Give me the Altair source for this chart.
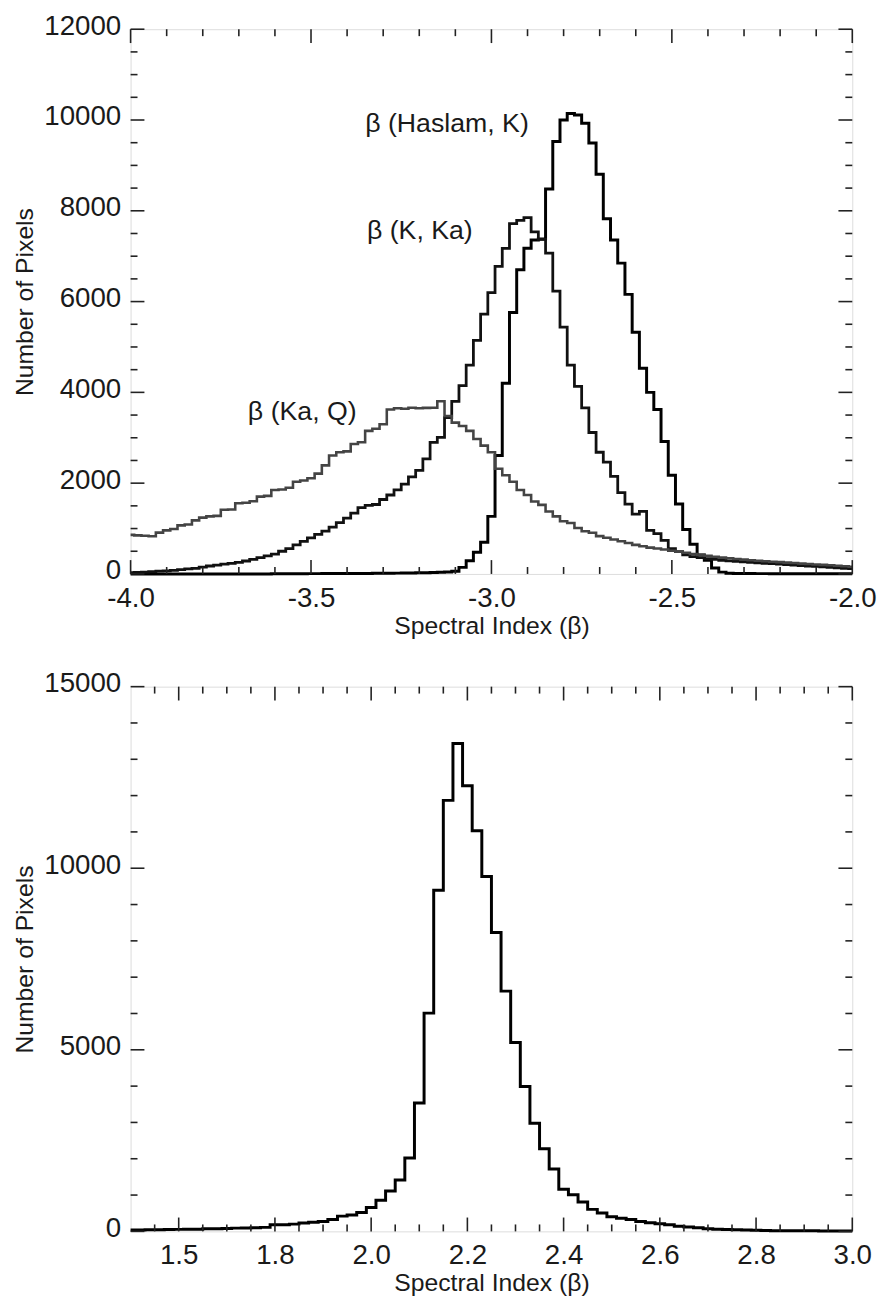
import altair as alt
import pandas as pd

# ---------------- data ----------------
# top panel: histogram bin centres from -4.00 to -2.00 in steps of 0.02
top_start, top_step, top_n = -4.0, 0.02, 101
series_names = ["β (Haslam, K)", "β (K, Ka)", "β (Ka, Q)"]

haslam_k = [0, 0, 0, 0, 0, 0, 0, 0, 0, 0,
            0, 0, 0, 0, 0, 0, 0, 0, 0, 0,
            5, 5, 5, 6, 6, 7, 7, 8, 8, 9,
            10, 10, 11, 12, 13, 14, 15, 18, 20, 22,
            25, 28, 30, 35, 45, 60, 145, 290, 480, 700,
            1268, 2609, 4203, 5760, 6703, 7174, 7355, 7380, 8478, 9528,
            10000, 10144, 10108, 9927, 9492, 8804, 7826, 7355, 6847, 6159,
            5326, 4529, 4000, 3623, 2920, 2174, 1540, 978, 652, 420,
            300, 130, 40, 15, 10, 8, 8, 7, 7, 6,
            6, 5, 5, 5, 4, 4, 4, 3, 3, 3, 3]

k_ka = [30, 35, 40, 50, 60, 70, 80, 95, 110, 125,
        150, 175, 195, 215, 235, 254, 285, 320, 362, 400,
        435, 500, 560, 640, 720, 797, 870, 942, 1030, 1130,
        1230, 1340, 1460, 1510, 1530, 1640, 1739, 1850, 1980, 2140,
        2282, 2536, 2898, 3007, 3442, 3804, 4150, 4601, 5145, 5724,
        6195, 6775, 7174, 7717, 7790, 7848, 7536, 7370, 7065, 6232,
        5435, 4601, 4130, 3659, 3116, 2681, 2464, 2150, 1790, 1540,
        1320, 1377, 960, 890, 740, 560, 490, 420, 380, 360,
        340, 320, 300, 290, 275, 265, 255, 245, 235, 225,
        215, 205, 195, 185, 175, 165, 155, 145, 135, 125, 115]

ka_q = [860, 850, 840, 830, 910, 960, 990, 1070, 1090, 1180,
        1240, 1268, 1280, 1413, 1420, 1558, 1570, 1600, 1703, 1720,
        1848, 1860, 1900, 2029, 2060, 2110, 2210, 2391, 2609, 2681,
        2700, 2862, 2900, 3152, 3200, 3297, 3623, 3650, 3640, 3660,
        3650, 3659, 3660, 3804, 3478, 3333, 3261, 3152, 2971, 2826,
        2681, 2319, 2174, 2029, 1848, 1739, 1594, 1522, 1377, 1268,
        1159, 1123, 1014, 942, 906, 833, 797, 760, 720, 680,
        640, 610, 580, 560, 540, 510, 490, 465, 440, 420,
        400, 380, 360, 345, 330, 315, 300, 290, 280, 270,
        260, 250, 240, 230, 220, 210, 200, 190, 180, 170, 160]

# bottom panel: bin centres from 1.50 to 3.00 in steps of 0.02
bot_start, bot_step, bot_n = 1.5, 0.02, 76
bottom_counts = [40, 40, 45, 45, 50, 55, 60, 60, 70, 75,
                 80, 90, 95, 100, 110, 180, 180, 200, 230, 250,
                 270, 330, 420, 450, 520, 657, 859, 1111, 1414, 2020,
                 3535, 6010, 9393, 11868, 13433, 12271, 11030, 9770, 8232, 6616,
                 5202, 3990, 2980, 2273, 1717, 1162, 1010, 808, 606, 505,
                 404, 360, 330, 270, 240, 210, 180, 140, 120, 100,
                 70, 60, 50, 45, 40, 30, 25, 20, 20, 15,
                 15, 15, 10, 10, 10, 10]

# annotations (data coordinates)
label_x = [-3.35, -3.345, -3.675]
label_y = [9900, 7560, 3560]

# axis ticks
top_x_major = [-4.0, -3.5, -3.0, -2.5, -2.0]
top_x_minor = [-3.9, -3.8, -3.7, -3.6, -3.4, -3.3, -3.2, -3.1, -2.9, -2.8, -2.7,
               -2.6, -2.4, -2.3, -2.2, -2.1]
top_y_major = [0, 2000, 4000, 6000, 8000, 10000, 12000]
top_y_minor = [500, 1000, 1500, 2500, 3000, 3500, 4500, 5000, 5500, 6500, 7000,
               7500, 8500, 9000, 9500, 10500, 11000, 11500]
bot_x_major = [1.6, 1.8, 2.0, 2.2, 2.4, 2.6, 2.8, 3.0]
bot_x_minor = [1.55, 1.65, 1.7, 1.75, 1.85, 1.9, 1.95, 2.05, 2.1, 2.15, 2.25, 2.3,
               2.35, 2.45, 2.5, 2.55, 2.65, 2.7, 2.75, 2.85, 2.9, 2.95]
bot_y_major = [0, 5000, 10000, 15000]
bot_y_minor = [1000, 2000, 3000, 4000, 6000, 7000, 8000, 9000, 11000, 12000,
               13000, 14000]

# ---------------- styling ----------------
W, H = 730, 551
FONT = "Liberation Sans"
TXT = "#1a1a1a"
LBL = 28
TTL = 25
ANN = 27
MAJ, MIN = 14, 7

top_rows = []
for name, vals in zip(series_names, [haslam_k, k_ka, ka_q]):
    for i, v in enumerate(vals):
        top_rows.append({"series": name, "beta": round(top_start + top_step * i, 3), "count": v})
top_df = pd.DataFrame(top_rows)

bot_df = pd.DataFrame({"beta": [round(bot_start + bot_step * i, 3) for i in range(bot_n)],
                       "count": bottom_counts})

lab_df = pd.DataFrame({"beta": label_x, "count": label_y, "text": series_names})

HYPHEN_FMT = "replace(format(datum.value, '.1f'), '\u2212', '-')"


def x_axis(values, expr=HYPHEN_FMT):
    return alt.Axis(values=values, labelExpr=expr, ticks=False, domain=False, grid=False,
                    labelFlush=False, labelOverlap=False,
                    labelFont=FONT, labelFontSize=LBL, labelColor=TXT, labelPadding=11,
                    title="Spectral Index (β)", titleFont=FONT, titleFontSize=TTL,
                    titleFontWeight="normal", titleColor=TXT, titlePadding=1)


def y_axis(values):
    return alt.Axis(values=values, format="d", ticks=False, domain=False, grid=False,
                    labelFlush=False, labelOverlap=False, labelOffset=-3,
                    labelFont=FONT, labelFontSize=LBL, labelColor=TXT, labelPadding=10,
                    title="Number of Pixels", titleFont=FONT, titleFontSize=TTL,
                    titleFontWeight="normal", titleColor=TXT, titlePadding=6)


def tick_layers(xscale, yscale, xax, yax, xmaj, xmin, ymaj, ymin):
    layers = []
    for vals, ln in ((xmaj, MAJ), (xmin, MIN)):
        d = pd.DataFrame({"v": vals})
        base = alt.Chart(d).mark_rule(color="#222", strokeWidth=1.6)
        layers.append(base.encode(x=alt.X("v:Q", scale=xscale, axis=xax),
                                  y=alt.value(H), y2=alt.value(H - ln)))
        layers.append(base.encode(x=alt.X("v:Q", scale=xscale, axis=xax),
                                  y=alt.value(0), y2=alt.value(ln)))
    for vals, ln in ((ymaj, MAJ), (ymin, MIN)):
        d = pd.DataFrame({"v": vals})
        base = alt.Chart(d).mark_rule(color="#222", strokeWidth=1.6)
        layers.append(base.encode(y=alt.Y("v:Q", scale=yscale, axis=yax),
                                  x=alt.value(0), x2=alt.value(ln)))
        layers.append(base.encode(y=alt.Y("v:Q", scale=yscale, axis=yax),
                                  x=alt.value(W), x2=alt.value(W - ln)))
    return layers


# ---------------- top panel ----------------
xs_t = alt.Scale(domain=[-4.0, -2.0], nice=False, zero=False)
ys_t = alt.Scale(domain=[0, 12000], nice=False)
xax_t = x_axis(top_x_major)
yax_t = y_axis(top_y_major)

top_lines = alt.Chart(top_df).mark_line(interpolate="step", strokeJoin="miter").encode(
    x=alt.X("beta:Q", scale=xs_t, axis=xax_t),
    y=alt.Y("count:Q", scale=ys_t, axis=yax_t),
    detail="series:N",
    color=alt.Color("series:N", scale=alt.Scale(domain=series_names,
                                                range=["#000000", "#111111", "#444444"]),
                    legend=None),
    strokeWidth=alt.StrokeWidth("series:N", scale=alt.Scale(domain=series_names,
                                                             range=[3.0, 2.6, 2.1]),
                                legend=None),
)

top_text = alt.Chart(lab_df).mark_text(align="left", baseline="middle", font=FONT,
                                       fontSize=ANN, color=TXT).encode(
    x=alt.X("beta:Q", scale=xs_t, axis=xax_t),
    y=alt.Y("count:Q", scale=ys_t, axis=yax_t),
    text="text:N",
)

top = alt.layer(top_lines, top_text,
                *tick_layers(xs_t, ys_t, xax_t, yax_t,
                             top_x_major, top_x_minor, top_y_major, top_y_minor)
                ).properties(width=W, height=H)

# ---------------- bottom panel ----------------
xs_b = alt.Scale(domain=[1.5, 3.0], nice=False, zero=False)
ys_b = alt.Scale(domain=[0, 15000], nice=False)
xax_b = x_axis(bot_x_major, "datum.value < 1.65 ? '1.5' : format(datum.value, '.1f')")
yax_b = y_axis(bot_y_major)

bot_line = alt.Chart(bot_df).mark_line(interpolate="step", strokeJoin="miter",
                                       color="#000000", strokeWidth=3.0).encode(
    x=alt.X("beta:Q", scale=xs_b, axis=xax_b),
    y=alt.Y("count:Q", scale=ys_b, axis=yax_b),
)

bottom = alt.layer(bot_line,
                   *tick_layers(xs_b, ys_b, xax_b, yax_b,
                                bot_x_major, bot_x_minor, bot_y_major, bot_y_minor)
                   ).properties(width=W, height=H)

chart = alt.vconcat(top, bottom, spacing=30).properties(
    padding={"left": 4, "top": -4, "right": 0, "bottom": 0}
).configure_view(stroke="#222", strokeWidth=2).configure(background="white")

chart.save("out.html", embed_options={"renderer": "svg", "actions": False})
